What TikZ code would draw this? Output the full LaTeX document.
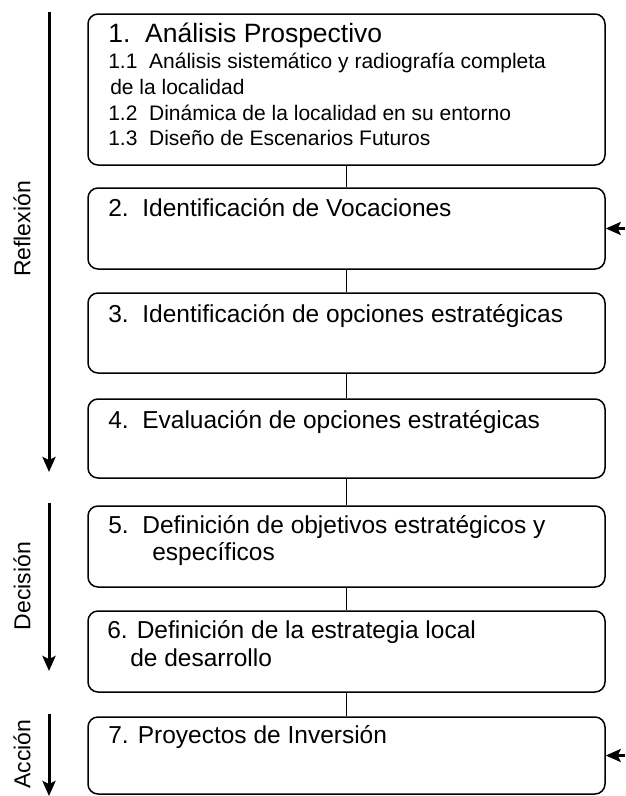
\documentclass[tikz,border=0pt]{standalone}
\usepackage{fontspec}
\setmainfont{Liberation Sans}
\usetikzlibrary{arrows.meta,positioning}

\begin{document}
\begin{tikzpicture}[x=1pt,y=-1pt,>={Stealth[length=15pt,width=13pt,inset=3pt]},semithick]
  \tikzstyle{etapa}=[draw,line width=1.5pt,rounded corners=10pt,
                     minimum width=517pt,inner sep=0pt]
  \tikzstyle{texto}=[anchor=base west,inner sep=0pt,
                     font=\fontsize{24.5}{28}\selectfont]
  \tikzstyle{titulo}=[texto,font=\fontsize{26.5}{30}\selectfont]
  \tikzstyle{subtexto}=[texto,font=\fontsize{21}{24}\selectfont]
  \tikzstyle{lado}=[rotate=90,inner sep=0pt,font=\fontsize{23}{27}\selectfont]
  \tikzstyle{enlace}=[line width=1.3pt]
  \tikzstyle{flecha}=[->,line width=3pt]
  \tikzstyle{entrada}=[->,line width=2.5pt]

  \useasboundingbox (0,0) rectangle (625,796);

  % etapas
  \node[etapa,minimum height=151pt] (e1) at (346.5,89.5)  {};
  \node[etapa,minimum height=81pt]  (e2) at (346.5,228.5) {};
  \node[etapa,minimum height=80pt]  (e3) at (346.5,333)   {};
  \node[etapa,minimum height=79pt]  (e4) at (346.5,438.5) {};
  \node[etapa,minimum height=81pt]  (e5) at (346.5,546.5) {};
  \node[etapa,minimum height=81pt]  (e6) at (346.5,651.5) {};
  \node[etapa,minimum height=77pt]  (e7) at (346.5,755.5) {};

  % textos
  \node[titulo]   (t1)  at (108,42)  {1.\ \ Análisis Prospectivo};
  \node[subtexto] (t11) at (108,68)  {1.1\ \ Análisis sistemático y radiografía completa};
  \node[subtexto] (t1b) at (110,94)  {de la localidad};
  \node[subtexto] (t12) at (108,120) {1.2\ \ Dinámica de la localidad en su entorno};
  \node[subtexto] (t13) at (108,145) {1.3\ \ Diseño de Escenarios Futuros};
  \node[texto] (t2)  at (108,216) {2.\ \ Identificación de Vocaciones};
  \node[texto] (t3)  at (108,322) {3.\ \ Identificación de opciones estratégicas};
  \node[texto] (t4)  at (108,428) {4.\ \ Evaluación de opciones estratégicas};
  \node[texto] (t5)  at (108,533) {5.\ \ Definición de objetivos estratégicos y};
  \node[texto] (t5b) at (152,560) {específicos};
  \node[texto] (t6)  at (107,638) {6. Definición de la estrategia local};
  \node[texto] (t6b) at (130,666) {de desarrollo};
  \node[texto] (t7)  at (108,743) {7. Proyectos de Inversión};

  % enlaces
  \draw[enlace] (e1) -- (e2);
  \draw[enlace] (e2) -- (e3);
  \draw[enlace] (e3) -- (e4);
  \draw[enlace] (e4) -- (e5);
  \draw[enlace] (e5) -- (e6);
  \draw[enlace] (e6) -- (e7);

  % fases
  \coordinate (r0) at (49,12);
  \coordinate (r1) at (49,472);
  \coordinate (d0) at (49,503);
  \coordinate (d1) at (49,671);
  \coordinate (a0) at (49,714);
  \coordinate (a1) at (49,796);
  \draw[flecha] (r0) -- (r1);
  \draw[flecha] (d0) -- (d1);
  \draw[flecha] (a0) -- (a1);
  \node[lado] (reflexion) at (22,229) {Reflexión};
  \node[lado] (decision)  at (22,586) {Decisión};
  \node[lado] (accion)    at (22,754) {Acción};

  % entradas
  \coordinate (v2) at (625,228.5);
  \coordinate (v7) at (625,755.5);
  \draw[entrada] (v2) -- (e2);
  \draw[entrada] (v7) -- (e7);
\end{tikzpicture}
\end{document}
